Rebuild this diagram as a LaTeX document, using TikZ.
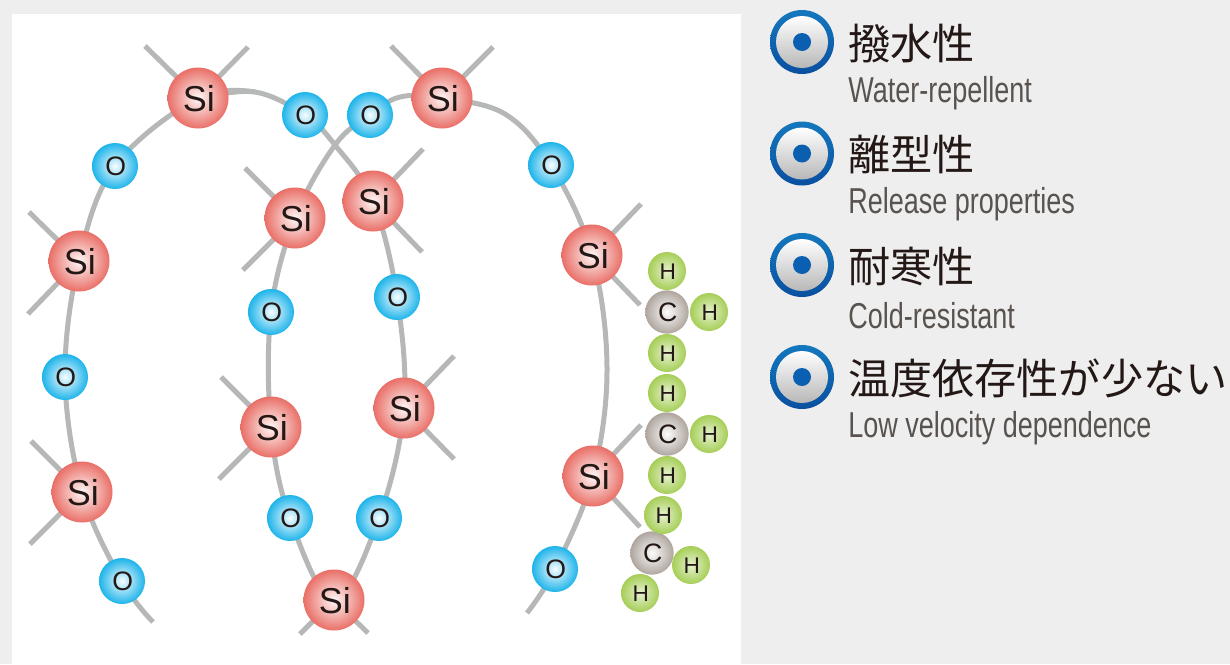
\documentclass[tikz,border=0pt]{standalone}
\usepackage{fontspec}
\setmainfont{Liberation Sans}
\newfontfamily\cjk{Noto Sans CJK JP}
\newfontfamily\narrow[FakeStretch=0.75]{Liberation Sans}
\usetikzlibrary{backgrounds}
\definecolor{pagegrey}{HTML}{EEEEEE}
\definecolor{bondgrey}{HTML}{B6B8B8}
\definecolor{siouter}{HTML}{E96F67}
\definecolor{oouter}{HTML}{1DB4EA}
\definecolor{houter}{HTML}{A6CE57}
\definecolor{couter}{HTML}{AFA59E}
\definecolor{inktext}{HTML}{231815}
\definecolor{subtext}{HTML}{595350}
\definecolor{ringtop}{HTML}{1478BE}
\definecolor{ringbot}{HTML}{0A4FA0}
\definecolor{dotblue}{HTML}{0B5FB0}
\newcommand{\atomtext}[1]{\hspace*{1.2pt}\raisebox{-0.6pt}[\height][\depth]{#1}}
\tikzset{
  atom/.style={circle,inner sep=0pt,outer sep=0pt,text=inktext,font=\fontsize{#1}{#1}\selectfont},
  sinode/.style={atom=27,minimum size=45.75pt,inner color=white!95!siouter,outer color=siouter},
  onode/.style={atom=20,minimum size=34.5pt,inner color=white!97!oouter,outer color=oouter},
  hnode/.style={atom=17,minimum size=28.5pt,inner color=white!72!houter,outer color=houter},
  cnode/.style={atom=20,minimum size=32.5pt,inner color=white!97!couter,outer color=couter},
  bond/.style={draw=bondgrey,line width=3.75pt,line cap=butt},
  chain/.style={bond},
  ringnode/.style={circle,inner sep=0pt,minimum size=48pt,top color=ringtop,bottom color=ringbot},
  disc/.style={circle,inner sep=0pt,minimum size=39pt,shading angle=45,top color=white,bottom color=black!28},
  dotnode/.style={circle,inner sep=0pt,minimum size=13.5pt,fill=dotblue},
  jp/.style={anchor=west,inner sep=0pt,text=inktext,font=\cjk\fontsize{31.6}{34}\selectfont},
  en/.style={anchor=west,inner sep=0pt,text=subtext,font=\narrow\fontsize{27}{30}\selectfont},
}
\begin{document}
\begin{tikzpicture}[x=0.75pt,y=-0.75pt]
\useasboundingbox (0,0) rectangle (1230,664);
% atoms
\foreach \n/\p in {si1/{198,98},si2/{79,261},si3/{82,492},si4/{295,218},si5/{373,201},si6/{442,98},si7/{592,255},si8/{593,476},si9/{271,427},si10/{404,408},si11/{334,600}}
  \node[sinode] (\n) at (\p) {\atomtext{Si}};
\foreach \n/\p in {o1/{115,166},o2/{65,377},o3/{122,581},o4/{305,115},o5/{370,115},o6/{551,165},o7/{271,312},o8/{397,297},o9/{290,518},o10/{379,518},o11/{555,569}}
  \node[onode] (\n) at (\p) {\atomtext{O}};
\foreach \n/\p in {c1/{667,312},c2/{667,434},c3/{652,553}}
  \node[cnode] (\n) at (\p) {\atomtext{C}};
\foreach \n/\p in {h1/{667,271},h2/{709,312},h3/{667,353},h4/{667,393},h5/{709,434},h6/{667,475},h7/{663,515},h8/{691,565},h9/{640,593}}
  \node[hnode] (\n) at (\p) {\atomtext{H}};
% legend
\foreach \k/\y/\a/\b in {1/42/撥水性/Water-repellent,2/153.5/離型性/Release properties,3/265/耐寒性/Cold-resistant,4/377/温度依存性が少ない/Low velocity dependence}{
  \node[ringnode] (ring\k) at (802,\y) {};
  \node[disc] (disc\k) at (ring\k) {};
  \node[dotnode] (dot\k) at (ring\k) {};
  \node[jp] (jp\k) at (848,\y+1.5) {\a};
  \node[en] (en\k) at (848,\y+51) {\b};
}
\begin{pgfonlayer}{background}
  \fill[pagegrey] (0,0) rectangle (1230,664);
  \fill[white] (12,14) rectangle (741,664);
  \coordinate (endL) at (153,622);
  \coordinate (endR) at (527,613);
  \coordinate (midR) at (607,368);
  \coordinate (arcA) at (255,92);
  \coordinate (cross) at (335,145);
  \coordinate (arcB) at (505,114);
  \coordinate (arcC) at (400,97);
  \foreach \s/\a/\b in {si1/{145,46}/{248,47},si2/{29,212}/{28,314},si3/{31,441}/{30,544},si4/{245,168}/{243,270},si5/{423,149}/{422,252},si6/{391,46}/{493,47},si7/{641,204}/{640,305},si8/{641,425}/{640,527},si9/{221,377}/{219,479},si10/{454,356}/{454,459},si11/{300,634}/{368,633}}{
    \coordinate (\s a) at (\a);
    \coordinate (\s b) at (\b);
    \draw[bond] (\s a) -- (\s.center) -- (\s b);
  }
  \draw[chain] plot[smooth,tension=0.6] coordinates {(arcA) (si1.center) (o1.center) (si2.center) (o2.center) (si3.center) (o3.center) (endL)};
  \draw[chain] plot[smooth,tension=0.6] coordinates {(si1.center) (arcA) (o4.center) (cross) (si5.center) (o8.center) (si10.center) (o10.center) (si11.center) (o9.center) (si9.center) (o7.center) (si4.center) (cross) (o5.center) (arcC) (si6.center) (arcB) (o6.center) (si7.center) (midR) (si8.center) (o11.center) (endR)};
\end{pgfonlayer}
\end{tikzpicture}
\end{document}
